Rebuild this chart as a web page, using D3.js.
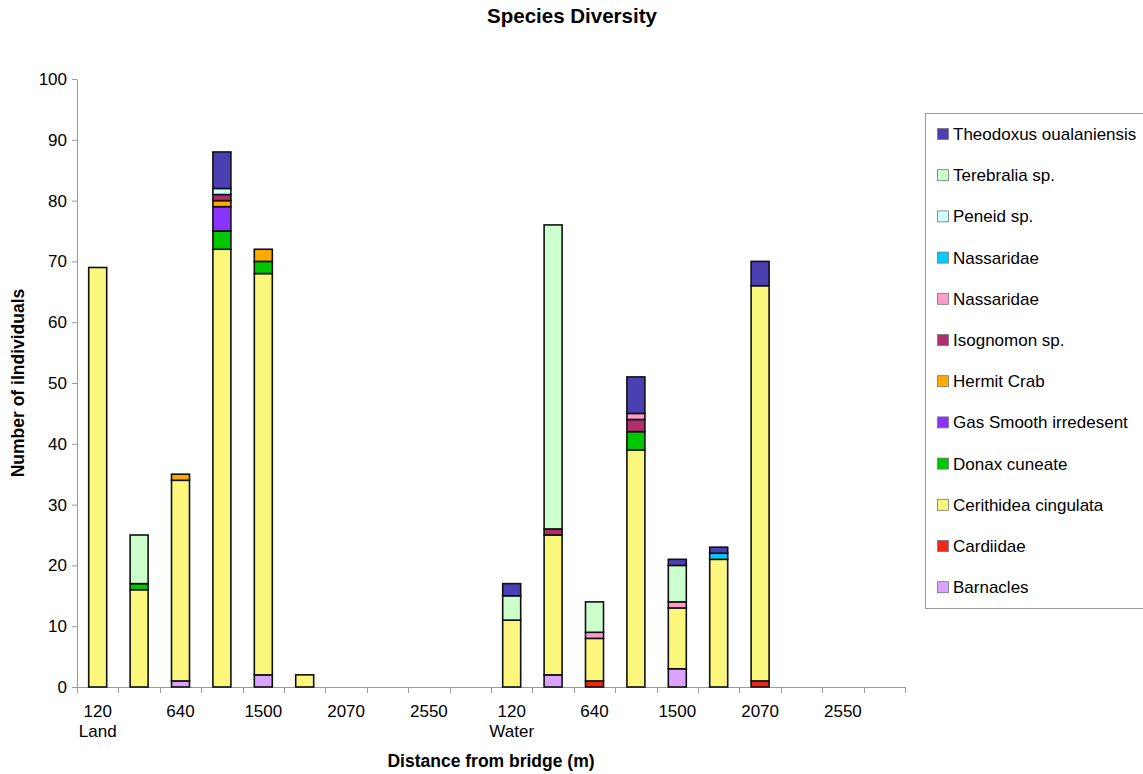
<!DOCTYPE html>
<html>
<head>
<meta charset="utf-8">
<script src="https://cdn.jsdelivr.net/npm/d3@7"></script>
<style>
  html, body { margin: 0; padding: 0; background: #fff; }
  svg { display: block; font-family: "Liberation Sans", Arial, Helvetica, sans-serif; }
</style>
</head>
<body>
<svg id="chart" width="1143" height="774"></svg>
<script>
// Sampling sites: two transects (Land, Water), ten stations each
const sites = ["Land", "Water"];
const stationLabels = ["120", "", "640", "", "1500", "", "2070", "", "2550", ""];

// Species, bottom of the stack first
const species = [
  "Barnacles", "Cardiidae", "Cerithidea cingulata", "Donax cuneate",
  "Gas Smooth irredesent", "Hermit Crab", "Isognomon sp.", "Nassaridae",
  "Nassaridae ", "Peneid sp.", "Terebralia sp.", "Theodoxus oualaniensis"
];
const colors = [
  "#d9a3ff", "#ee2a17", "#fbf67c", "#00c800",
  "#8a33ff", "#ffaa00", "#b02e6e", "#ff9ccc",
  "#00ccff", "#ccffff", "#ccffcc", "#4a3fb3"
];

// Counts per station: Land 1-10 then Water 1-10
const barnacles  = [0,0,1,0,2,0,0,0,0,0,  0,2,0,0,3,0,0,0,0,0];
const cardiidae  = [0,0,0,0,0,0,0,0,0,0,  0,0,1,0,0,0,1,0,0,0];
const cerithidea = [69,16,33,72,66,2,0,0,0,0,  11,23,7,39,10,21,65,0,0,0];
const donax      = [0,1,0,3,2,0,0,0,0,0,  0,0,0,3,0,0,0,0,0,0];
const gasSmooth  = [0,0,0,4,0,0,0,0,0,0,  0,0,0,0,0,0,0,0,0,0];
const hermitCrab = [0,0,1,1,2,0,0,0,0,0,  0,0,0,0,0,0,0,0,0,0];
const isognomon  = [0,0,0,1,0,0,0,0,0,0,  0,1,0,2,0,0,0,0,0,0];
const nassPink   = [0,0,0,0,0,0,0,0,0,0,  0,0,1,1,1,0,0,0,0,0];
const nassCyan   = [0,0,0,0,0,0,0,0,0,0,  0,0,0,0,0,1,0,0,0,0];
const peneid     = [0,0,0,1,0,0,0,0,0,0,  0,0,0,0,0,0,0,0,0,0];
const terebralia = [0,8,0,0,0,0,0,0,0,0,  4,50,5,0,6,0,0,0,0,0];
const theodoxus  = [0,0,0,6,0,0,0,0,0,0,  2,0,0,6,1,1,4,0,0,0];

const seriesValues = [barnacles, cardiidae, cerithidea, donax, gasSmooth, hermitCrab,
  isognomon, nassPink, nassCyan, peneid, terebralia, theodoxus];

const yTicks = [0,10,20,30,40,50,60,70,80,90,100];

// Table for d3.stack
const rows = [];
sites.forEach((site, s) => {
  stationLabels.forEach((lab, k) => {
    const i = s * stationLabels.length + k;
    const row = { idx: i, label: lab, site: k === 0 ? site : "" };
    species.forEach((sp, j) => { row[j] = seriesValues[j][i]; });
    rows.push(row);
  });
});

const svg = d3.select("#chart");
const M = { left: 77, right: 905, top: 79, bottom: 687 };

const x = d3.scaleBand().domain(rows.map(d => d.idx)).range([M.left, M.right]).padding(0);
const y = d3.scaleLinear().domain([0, 100]).range([M.bottom, M.top]);

const stack = d3.stack().keys(species.map((_, j) => j));
const layers = stack(rows);

const axisColor = "#9a9a9a";

// Title
svg.append("text").attr("x", 572).attr("y", 23).attr("text-anchor", "middle")
  .attr("font-size", 20.5).attr("font-weight", "bold").text("Species Diversity");

// Y axis
const yAxis = svg.append("g").attr("transform", `translate(${M.left},0)`)
  .call(d3.axisLeft(y).tickValues(yTicks).tickSize(5).tickPadding(5).tickSizeOuter(0));
yAxis.select(".domain").attr("stroke", axisColor);
yAxis.selectAll(".tick line").attr("stroke", axisColor);
yAxis.selectAll(".tick text").attr("font-size", 17).attr("fill", "#000")
  .attr("font-family", "Liberation Sans, Arial, sans-serif");

svg.append("text")
  .attr("transform", `translate(24,${(M.top + M.bottom) / 2}) rotate(-90)`)
  .attr("text-anchor", "middle").attr("font-size", 17.5).attr("font-weight", "bold")
  .text("Number of iIndividuals");

// X axis: baseline, ticks on station boundaries, labels centred under stations
const xg = svg.append("g");
xg.append("line").attr("x1", M.left).attr("x2", M.right)
  .attr("y1", M.bottom + 0.5).attr("y2", M.bottom + 0.5).attr("stroke", axisColor);
const edges = rows.map(d => x(d.idx)).concat([M.right]);
xg.selectAll("line.tk").data(edges).join("line").attr("class", "tk")
  .attr("x1", d => Math.round(d) + 0.5).attr("x2", d => Math.round(d) + 0.5)
  .attr("y1", M.bottom).attr("y2", M.bottom + 6).attr("stroke", axisColor);
xg.selectAll("text.lab").data(rows.filter(d => d.label)).join("text").attr("class", "lab")
  .attr("x", d => x(d.idx) + x.bandwidth() / 2).attr("y", 717)
  .attr("text-anchor", "middle").attr("font-size", 17).text(d => d.label);
xg.selectAll("text.site").data(rows.filter(d => d.site)).join("text").attr("class", "site")
  .attr("x", d => x(d.idx) + x.bandwidth() / 2).attr("y", 737)
  .attr("text-anchor", "middle").attr("font-size", 17).text(d => d.site);

svg.append("text").attr("x", 491).attr("y", 767).attr("text-anchor", "middle")
  .attr("font-size", 17.5).attr("font-weight", "bold").text("Distance from bridge (m)");

// Stacked bars
const barW = 18;
svg.append("g").selectAll("g").data(layers).join("g")
  .attr("fill", (d, j) => colors[j])
  .selectAll("rect")
  .data(d => d.filter(p => p[1] - p[0] > 0))
  .join("rect")
  .attr("x", p => x(p.data.idx) + (x.bandwidth() - barW) / 2)
  .attr("y", p => y(p[1]))
  .attr("width", barW)
  .attr("height", p => y(p[0]) - y(p[1]))
  .attr("stroke", "#111").attr("stroke-width", 1.6);

// Legend, top entry is the top of the stack
const lg = svg.append("g");
lg.append("rect").attr("x", 925.5).attr("y", 113.5).attr("width", 230).attr("height", 495)
  .attr("fill", "#fff").attr("stroke", axisColor);
const order = species.map((_, j) => j).reverse();
const items = lg.selectAll("g.item").data(order).join("g").attr("class", "item")
  .attr("transform", (j, k) => `translate(937,${134 + k * 41.2})`);
items.append("rect").attr("x", 0.5).attr("y", -5.5).attr("width", 11).attr("height", 11)
  .attr("fill", j => colors[j]).attr("stroke", "#777").attr("stroke-width", 0.8);
items.append("text").attr("x", 16).attr("y", 6).attr("font-size", 17)
  .text(j => species[j].trim());
</script>
</body>
</html>
